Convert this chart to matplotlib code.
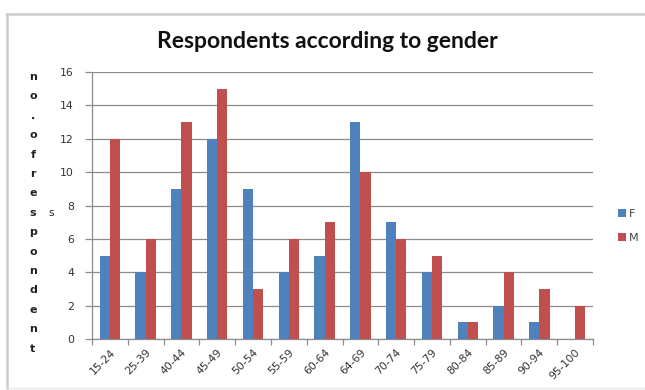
import matplotlib
matplotlib.use("Agg")
import matplotlib.pyplot as plt
from matplotlib.lines import Line2D
import numpy as np

categories = ["15-24", "25-39", "40-44", "45-49", "50-54", "55-59", "60-64",
              "64-69", "70-74", "75-79", "80-84", "85-89", "90-94", "95-100"]
female = [5, 4, 9, 12, 9, 4, 5, 13, 7, 4, 1, 2, 1, 0]
male = [12, 6, 13, 15, 3, 6, 7, 10, 6, 5, 1, 4, 3, 2]
y_ticks = [0, 2, 4, 6, 8, 10, 12, 14, 16]
ylabel_letters = list("no.ofrespondent")

W, H = 645, 390
fig = plt.figure(figsize=(W / 100, H / 100), dpi=100)
fig.patch.set_facecolor("white")

# frame around the chart
border = "#cccccc"
fig.add_artist(Line2D([7 / W, 1], [1 - 14 / H, 1 - 14 / H], color=border, lw=1.8))
fig.add_artist(Line2D([7 / W, 7 / W], [1 - 14 / H, 1 - 388 / H], color=border, lw=1.8))
fig.add_artist(Line2D([7 / W, 1], [1 - 388 / H, 1 - 388 / H], color="#e6e6e6", lw=1.0))

ax = fig.add_axes([92 / W, 1 - 339 / H, (593 - 92) / W, (339 - 72) / H])
x = np.arange(len(categories))
w = 0.286
blue = "#4F81BD"
red = "#C0504D"
ax.bar(x - w / 2, female, width=w, color=blue, label="F", zorder=3)
ax.bar(x + w / 2, male, width=w, color=red, label="M", zorder=3)

ax.set_xlim(-0.5, len(categories) - 0.5)
ax.set_ylim(0, 16)
ax.set_yticks(y_ticks)
ax.yaxis.grid(True, color="#8c8c8c", lw=0.9, zorder=0)
ax.set_axisbelow(True)

for side in ["top", "right"]:
    ax.spines[side].set_visible(False)
for side in ["left", "bottom"]:
    ax.spines[side].set_color("#8c8c8c")
    ax.spines[side].set_linewidth(0.9)

ax.set_xticks(x)
ax.set_xticklabels(categories, rotation=45, ha="right", rotation_mode="anchor",
                   fontsize=7.8, color="#333333", family="DejaVu Sans")
ax.set_xticks(np.arange(-0.5, len(categories)), minor=True)
ax.tick_params(axis="x", which="major", length=0, pad=6)
ax.tick_params(axis="x", which="minor", length=4, color="#8c8c8c", width=0.9)
ax.tick_params(axis="y", length=5, color="#8c8c8c", width=0.9, labelsize=7.8,
               labelcolor="#333333", pad=8)

# vertical, letter-by-letter axis title
y0, step = 77, 19.4
for i, ch in enumerate(ylabel_letters):
    fig.text(33 / W, 1 - (y0 + i * step) / H, ch, ha="center", va="center",
             fontsize=8, fontweight="bold", color="#222222")
fig.text(51 / W, 1 - 213 / H, "s", ha="center", va="center",
         fontsize=7.5, color="#222222")

fig.text(327 / W, 1 - 42 / H, "Respondents according to gender", ha="center",
         va="center", fontsize=16.5, fontweight="bold", family="Lato", color="#111111")

ax.legend(loc="center left", bbox_to_anchor=(608 / W, 1 - 226 / H),
          bbox_transform=fig.transFigure, frameon=False, fontsize=8,
          handlelength=0.7, handleheight=0.7, handletextpad=0.3,
          labelspacing=1.3, labelcolor="#444444")

fig.savefig("out.png", dpi=100, facecolor="white")
